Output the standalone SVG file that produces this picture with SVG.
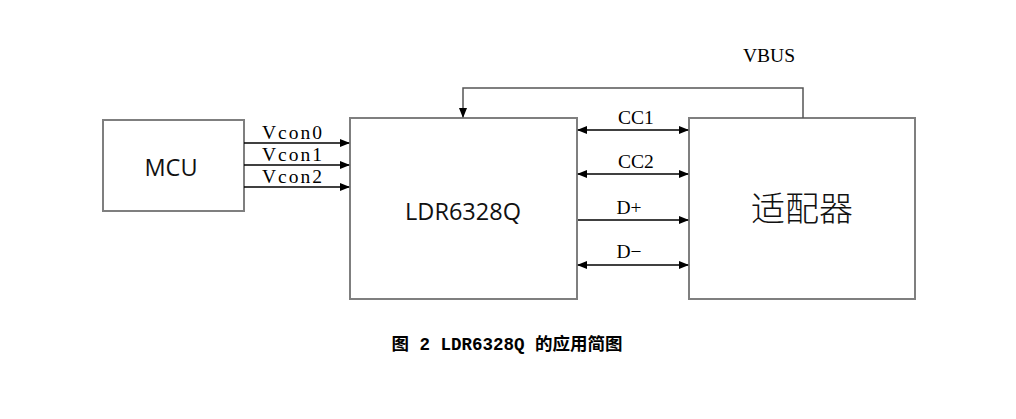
<svg xmlns="http://www.w3.org/2000/svg" width="1016" height="419" viewBox="0 0 1016 419">
<style>
.box{fill:#fff;stroke:#7f7f7f;stroke-width:2}
.ln{stroke:#000;stroke-width:1.3;fill:none}
.lbl{font-family:"Liberation Serif","Noto Sans CJK SC",serif;font-size:19.5px;fill:#000}
.nm{font-family:"Open Sans","Liberation Sans",sans-serif;font-size:23.5px;fill:#111;text-anchor:middle}
</style>
<defs>
<marker id="ah" markerWidth="10" markerHeight="8" refX="9" refY="4" orient="auto-start-reverse" markerUnits="userSpaceOnUse">
<path d="M0,0 L10,4 L0,8 Z" fill="#000"/>
</marker>
</defs>
<g id="mcu"><rect class="box" x="103" y="120" width="141" height="91"/><text class="nm" x="171" y="176">MCU</text></g>
<g id="ldr"><rect class="box" x="350" y="118" width="227" height="181"/><text class="nm" x="463" y="220">LDR6328Q</text></g>
<g id="adapter"><rect class="box" x="689" y="118" width="226" height="181"/><text x="802" y="221" font-family="Noto Sans CJK SC,sans-serif" font-size="34" font-weight="300" fill="#111" text-anchor="middle">适配器</text></g>
<g id="connectors">
<path class="ln" d="M244,143 H349" marker-end="url(#ah)"/>
<path class="ln" d="M244,165 H349" marker-end="url(#ah)"/>
<path class="ln" d="M244,187 H349" marker-end="url(#ah)"/>
<path class="ln" d="M578,130 H688" marker-start="url(#ah)" marker-end="url(#ah)"/>
<path class="ln" d="M578,174 H688" marker-start="url(#ah)" marker-end="url(#ah)"/>
<path class="ln" d="M578,220 H688" marker-end="url(#ah)"/>
<path class="ln" d="M578,265 H688" marker-start="url(#ah)" marker-end="url(#ah)"/>
<path d="M803,118 V88 H463 V117" fill="none" stroke="#555" stroke-width="1.5" marker-end="url(#ah)"/>
</g>
<g id="labels">
<text class="lbl" x="262" y="139" textLength="60">Vcon0</text>
<text class="lbl" x="262" y="161" textLength="60">Vcon1</text>
<text class="lbl" x="262" y="183" textLength="60">Vcon2</text>
<text class="lbl" x="636" y="124" text-anchor="middle">CC1</text>
<text class="lbl" x="636" y="168" text-anchor="middle">CC2</text>
<text class="lbl" x="629" y="214" text-anchor="middle">D+</text>
<text class="lbl" x="629" y="258" text-anchor="middle">D−</text>
<text class="lbl" x="769" y="62" text-anchor="middle">VBUS</text>
</g>
<text x="507" y="350" font-family="Liberation Mono,Noto Sans CJK SC,monospace" font-weight="bold" font-size="17.5" fill="#000" text-anchor="middle">图 2 LDR6328Q 的应用简图</text>
</svg>
